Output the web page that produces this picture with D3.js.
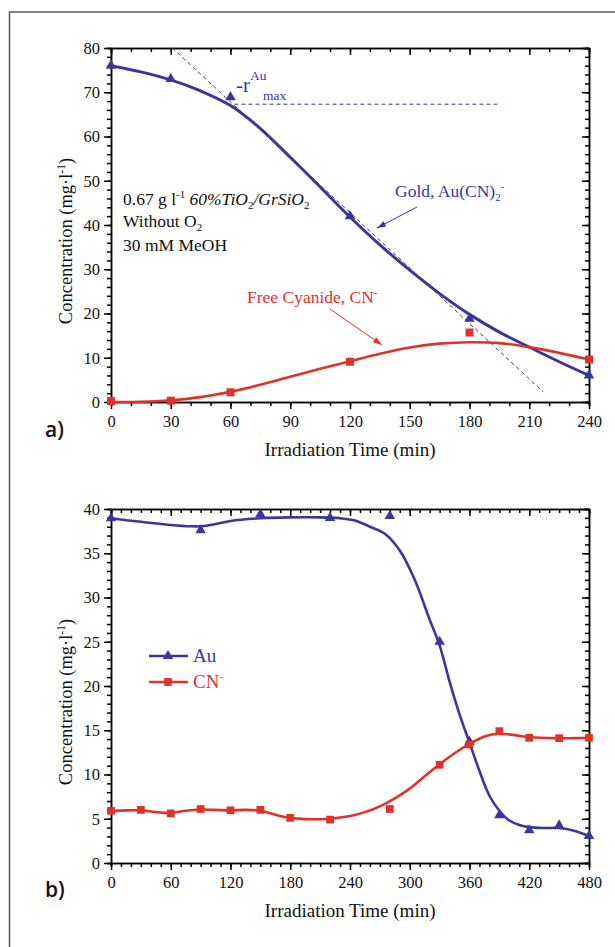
<!DOCTYPE html>
<html><head><meta charset="utf-8">
<script src="https://cdn.jsdelivr.net/npm/d3@7"></script>
<style>
html,body{margin:0;padding:0;background:#fff;}
svg{display:block;font-family:"Liberation Serif","Times New Roman",serif;}
.axis path,.axis line{stroke:#000;}
.axis text{font-family:"Liberation Serif","Times New Roman",serif;fill:#111;}
</style></head>
<body>
<div id="chart"></div>
<script>
// ---------- Data: panel a) ----------
const timeA = [0, 30, 60, 120, 180, 240];
const goldA = [76, 73, 68.9, 42, 18.8, 6];
const cyanA = [0.2, 0.3, 2.2, 9.1, 15.7, 9.6];
const fitTimeA = [0, 15, 30, 45, 60, 75, 90, 105, 120, 135, 150, 165, 180, 195, 210, 225, 240];
const goldFitA = [76, 74.6, 72.8, 70.3, 67, 61.8, 55.3, 48.6, 41.8, 35.5, 29.8, 24.5, 19.8, 15.8, 12.4, 9.1, 6];
const cyanFitA = [0, 0.05, 0.4, 1.1, 2.3, 3.9, 5.7, 7.5, 9.2, 10.9, 12.3, 13.2, 13.5, 13.3, 12.4, 11.1, 9.6];
const tangentTime = [30.8, 217];
const tangentConc = [80, 2.3];
const rmaxTime = [62, 194];
const rmaxConc = [67.3, 67.3];
const xTicksA = [0, 30, 60, 90, 120, 150, 180, 210, 240];
const yTicksA = [0, 10, 20, 30, 40, 50, 60, 70, 80];

// ---------- Data: panel b) ----------
const timeAuB = [0, 90, 150, 220, 280, 330, 360, 390, 420, 450, 480];
const auB = [38.95, 37.6, 39.4, 39.0, 39.2, 25.0, 13.7, 5.4, 3.7, 4.25, 3.05];
const timeCnB = [0, 30, 60, 90, 120, 150, 180, 220, 280, 330, 360, 390, 420, 450, 480];
const cnB = [5.9, 6.0, 5.6, 6.1, 5.95, 6.0, 5.1, 4.9, 6.1, 11.1, 13.4, 14.9, 14.15, 14.1, 14.15];
const fitTimeAuB = [0, 30, 60, 80, 90, 105, 120, 150, 180, 210, 230, 245, 260, 275, 290, 305, 320, 330, 340, 350, 360, 370, 380, 390, 400, 410, 420, 435, 450, 465, 480];
const auFitB = [38.95, 38.55, 38.2, 38.05, 38.05, 38.3, 38.65, 38.95, 39.05, 39.05, 38.95, 38.7, 38.0, 37.2, 35.3, 32.0, 27.5, 24.6, 20.5, 16.8, 13.6, 10.4, 7.6, 5.9, 4.8, 4.3, 4.05, 3.95, 3.95, 3.65, 3.05];
const fitTimeCnB = [0, 15, 30, 45, 60, 75, 90, 105, 120, 135, 150, 165, 180, 200, 220, 240, 255, 270, 285, 300, 315, 330, 345, 360, 375, 390, 405, 420, 450, 480];
const cnFitB = [5.85, 5.95, 5.95, 5.75, 5.65, 5.9, 6.05, 6.0, 5.95, 6.0, 5.9, 5.45, 5.1, 4.95, 5.0, 5.3, 5.75, 6.4, 7.3, 8.4, 9.8, 11.15, 12.4, 13.45, 14.3, 14.6, 14.45, 14.2, 14.1, 14.15];
const xTicksB = [0, 60, 120, 180, 240, 300, 360, 420, 480];
const yTicksB = [0, 5, 10, 15, 20, 25, 30, 35, 40];

const BLUE = "#3b369e";
const RED = "#e2312a";
const W = 615, H = 947;
const SERIF = '"Liberation Serif","Times New Roman",serif';

const svg = d3.select("#chart").append("svg").attr("width", W).attr("height", H);

// outer frame (cut by page edges)
svg.append("rect").attr("x", 9.5).attr("y", 12).attr("width", 640).attr("height", 1000)
  .attr("fill", "none").attr("stroke", "#5a5a5a").attr("stroke-width", 1.5);

const zip = (a, b) => a.map((v, i) => [v, b[i]]);

function panel(opt) {
  const x = d3.scaleLinear().domain(opt.xDomain).range([111, 589]);
  const y = d3.scaleLinear().domain(opt.yDomain).range([opt.bottom, opt.top]);
  const g = svg.append("g");
  const minorX = d3.range(opt.xDomain[0], opt.xDomain[1] + 0.001, opt.xMinor);
  const minorY = d3.range(opt.yDomain[0], opt.yDomain[1] + 0.001, opt.yMinor);

  const ax = (gen, tr) => {
    const a = g.append("g").attr("class", "axis").attr("transform", tr).call(gen)
      .attr("font-family", SERIF).attr("font-size", 16.5);
    a.selectAll("path,line").attr("stroke-width", 1.5);
    return a;
  };
  // minor ticks
  ax(d3.axisBottom(x).tickValues(minorX).tickSize(4).tickFormat(""), `translate(0,${opt.bottom})`);
  ax(d3.axisTop(x).tickValues(minorX).tickSize(-4).tickFormat(""), `translate(0,${opt.top})`);
  ax(d3.axisLeft(y).tickValues(minorY).tickSize(4).tickFormat(""), `translate(111,0)`);
  ax(d3.axisRight(y).tickValues(minorY).tickSize(-4).tickFormat(""), `translate(589,0)`);
  // major ticks
  const xb = ax(d3.axisBottom(x).tickValues(opt.xTicks).tickSize(7).tickSizeOuter(0).tickPadding(6), `translate(0,${opt.bottom})`);
  ax(d3.axisTop(x).tickValues(opt.xTicks).tickSize(-7).tickSizeOuter(0).tickFormat(""), `translate(0,${opt.top})`);
  const yl = ax(d3.axisLeft(y).tickValues(opt.yTicks).tickSize(7).tickSizeOuter(0).tickPadding(4), `translate(111,0)`);
  ax(d3.axisRight(y).tickValues(opt.yTicks).tickSize(-7).tickSizeOuter(0).tickFormat(""), `translate(589,0)`);
  [xb, yl].forEach(a => a.selectAll("text").attr("font-size", 16.5).attr("font-family", SERIF).attr("fill", "#111"));

  // axis titles
  g.append("text").attr("x", 350).attr("y", opt.bottom + 54).attr("text-anchor", "middle")
    .attr("font-size", 19).attr("fill", "#111").text("Irradiation Time (min)");
  const yt = g.append("text").attr("transform", `translate(72,${(opt.top + opt.bottom) / 2 + 16}) rotate(-90)`)
    .attr("text-anchor", "middle").attr("font-size", 18.5).attr("fill", "#111");
  yt.append("tspan").text("Concentration (mg\u00b7l");
  yt.append("tspan").attr("font-size", 11.5).attr("dy", -7).text("-1");
  yt.append("tspan").attr("dy", 7).text(")");

  // panel letter
  g.append("text").attr("x", 45).attr("y", opt.bottom + opt.letterDy).attr("font-family", "'Open Sans', sans-serif")
    .attr("font-weight", 600).attr("font-size", 21).attr("fill", "#111").text(opt.letter);

  return { x, y, g };
}

function line(p, xs, ys, color, w, curve, dash) {
  const gen = d3.line().x(d => p.x(d[0])).y(d => p.y(d[1])).curve(curve || d3.curveCatmullRom.alpha(0.5));
  const path = p.g.append("path").datum(zip(xs, ys)).attr("d", gen)
    .attr("fill", "none").attr("stroke", color).attr("stroke-width", w);
  if (dash) path.attr("stroke-dasharray", dash);
  return path;
}
function markers(p, xs, ys, type, color, size) {
  p.g.append("g").selectAll("path").data(zip(xs, ys)).join("path")
    .attr("transform", d => `translate(${p.x(d[0])},${p.y(d[1])})`)
    .attr("d", d3.symbol().type(type).size(size)).attr("fill", color);
}

// ---------- Panel a ----------
const A = panel({ xDomain: [0, 240], yDomain: [0, 80], top: 48, bottom: 402, xTicks: xTicksA, yTicks: yTicksA,
  xMinor: 10, yMinor: 2, letter: "a)", letterDy: 35 });
line(A, tangentTime, tangentConc, BLUE, 1, d3.curveLinear, "4,3");
line(A, rmaxTime, rmaxConc, BLUE, 1, d3.curveLinear, "4,3");
line(A, fitTimeA, goldFitA, BLUE, 3);
line(A, fitTimeA, cyanFitA, RED, 2.6);
markers(A, timeA, goldA, d3.symbolTriangle, BLUE, 48);
markers(A, timeA, cyanA, d3.symbolSquare, RED, 64);

// annotations panel a
const ann = A.g.append("g").attr("font-size", 17.5);
const r = ann.append("text").attr("x", 236).attr("y", 92).attr("fill", BLUE);
r.append("tspan").attr("font-size", 21).text("-r");
r.append("tspan").attr("font-size", 13.5).attr("dy", -12).text("Au");
ann.append("text").attr("x", 263).attr("y", 100).attr("fill", BLUE).attr("font-size", 13.5).text("max");

const t1 = ann.append("text").attr("x", 123).attr("y", 205).attr("fill", "#111");
t1.append("tspan").text("0.67 g l");
t1.append("tspan").attr("font-size", 11).attr("dy", -7).text("-1");
t1.append("tspan").attr("dy", 7).text(" ");
t1.append("tspan").attr("font-style", "italic").text("60%TiO");
t1.append("tspan").attr("font-size", 11).attr("dy", 4).text("2");
t1.append("tspan").attr("dy", -4).attr("font-style", "italic").text("/GrSiO");
t1.append("tspan").attr("font-size", 11).attr("dy", 4).text("2");
const t2 = ann.append("text").attr("x", 123).attr("y", 227).attr("fill", "#111");
t2.append("tspan").text("Without O");
t2.append("tspan").attr("font-size", 11).attr("dy", 4).text("2");
ann.append("text").attr("x", 123).attr("y", 251).attr("fill", "#111").text("30 mM MeOH");

const gl = ann.append("text").attr("x", 395).attr("y", 197).attr("fill", BLUE);
gl.append("tspan").text("Gold, Au(CN)");
gl.append("tspan").attr("font-size", 11).attr("dy", 4).text("2");
gl.append("tspan").attr("font-size", 11).attr("dy", -11).text("-");

const fc = ann.append("text").attr("x", 247).attr("y", 303).attr("fill", RED);
fc.append("tspan").text("Free Cyanide, CN");
fc.append("tspan").attr("font-size", 11).attr("dy", -7).text("-");

function arrow(g, x1, y1, x2, y2, color) {
  g.append("line").attr("x1", x1).attr("y1", y1).attr("x2", x2).attr("y2", y2)
    .attr("stroke", color).attr("stroke-width", 1);
  const ang = Math.atan2(y2 - y1, x2 - x1);
  const L = 9, Wd = 3;
  const bx = x2 - L * Math.cos(ang), by = y2 - L * Math.sin(ang);
  const px = -Math.sin(ang) * Wd, py = Math.cos(ang) * Wd;
  g.append("path").attr("d", `M${x2},${y2}L${bx + px},${by + py}L${bx - px},${by - py}Z`).attr("fill", color);
}
arrow(A.g, 417, 207, 377, 228, BLUE);
arrow(A.g, 330, 309, 382, 345, RED);

// ---------- Panel b ----------
const B = panel({ xDomain: [0, 480], yDomain: [0, 40], top: 509, bottom: 863, xTicks: xTicksB, yTicks: yTicksB,
  xMinor: 10, yMinor: 1, letter: "b)", letterDy: 34 });
line(B, fitTimeAuB, auFitB, BLUE, 2.6);
line(B, fitTimeCnB, cnFitB, RED, 2.6);
markers(B, timeAuB, auB, d3.symbolTriangle, BLUE, 48);
markers(B, timeCnB, cnB, d3.symbolSquare, RED, 60);

// legend
const lg = B.g.append("g").attr("font-size", 19);
[[656, BLUE, d3.symbolTriangle, 48, "Au", ""], [682, RED, d3.symbolSquare, 60, "CN", "-"]].forEach(([yy, c, sym, sz, lab, sup]) => {
  lg.append("line").attr("x1", 149).attr("x2", 188).attr("y1", yy).attr("y2", yy).attr("stroke", c).attr("stroke-width", 2.6);
  lg.append("path").attr("transform", `translate(168,${yy})`).attr("d", d3.symbol().type(sym).size(sz)).attr("fill", c);
  const tx = lg.append("text").attr("x", 193).attr("y", yy + 6).attr("fill", c).text(lab);
  if (sup) tx.append("tspan").attr("font-size", 11).attr("dy", -8).text(sup);
});
</script>
</body></html>
